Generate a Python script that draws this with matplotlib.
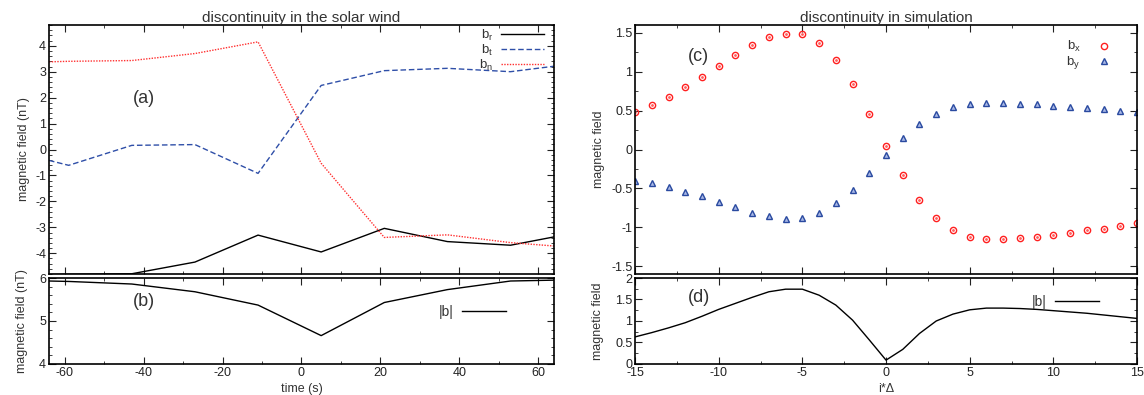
import numpy as np
import matplotlib
matplotlib.use("Agg")
import matplotlib.pyplot as plt
from matplotlib.ticker import MultipleLocator

plt.rcParams['font.family'] = ['Liberation Sans', 'DejaVu Sans']
plt.rcParams['text.color'] = '#333333'
plt.rcParams['axes.labelcolor'] = '#333333'
plt.rcParams['xtick.color'] = '#222222'
plt.rcParams['ytick.color'] = '#222222'
plt.rcParams['axes.unicode_minus'] = False
plt.rcParams['mathtext.fontset'] = 'custom'
plt.rcParams['mathtext.rm'] = 'Liberation Sans'
plt.rcParams['mathtext.it'] = 'Liberation Sans'

# solar wind data (left panels)
time_s = [-64, -59, -43, -27, -11, 5, 21, 37, 53, 64]
b_r = [-4.82, -4.81, -4.79, -4.34, -3.30, -3.95, -3.04, -3.55, -3.69, -3.37]
b_t = [-0.42, -0.61, 0.16, 0.19, -0.92, 2.47, 3.04, 3.13, 3.00, 3.21]
b_n = [3.38, 3.40, 3.43, 3.70, 4.15, -0.53, -3.39, -3.29, -3.59, -3.72]
b_mag = [5.93, 5.92, 5.86, 5.68, 5.37, 4.66, 5.43, 5.73, 5.93, 5.95]

# simulation data (right panels)
i_delta = list(range(-15, 16))
b_x = [0.48, 0.57, 0.68, 0.80, 0.93, 1.07, 1.21, 1.34, 1.44, 1.49, 1.48, 1.37,
       1.15, 0.84, 0.46, 0.05, -0.33, -0.65, -0.88, -1.03, -1.12, -1.15, -1.15,
       -1.14, -1.12, -1.10, -1.07, -1.04, -1.02, -0.98, -0.95]
b_y = [-0.40, -0.43, -0.48, -0.54, -0.60, -0.67, -0.74, -0.81, -0.86, -0.89,
       -0.88, -0.82, -0.69, -0.52, -0.30, -0.07, 0.15, 0.33, 0.46, 0.54, 0.59,
       0.60, 0.60, 0.59, 0.58, 0.56, 0.55, 0.53, 0.52, 0.50, 0.48]
b_sim = [0.63, 0.73, 0.84, 0.96, 1.11, 1.27, 1.41, 1.55, 1.68, 1.74, 1.74, 1.60,
         1.37, 1.02, 0.56, 0.09, 0.34, 0.71, 1.00, 1.16, 1.26, 1.30, 1.30,
         1.29, 1.27, 1.24, 1.21, 1.18, 1.14, 1.10, 1.06]

fig = plt.figure(figsize=(11.44, 3.95), dpi=100)
ax_a = fig.add_axes([0.0428, 0.3063, 0.4414, 0.6304])
ax_b = fig.add_axes([0.0428, 0.0785, 0.4414, 0.2177])
ax_c = fig.add_axes([0.5551, 0.3063, 0.4388, 0.6304])
ax_d = fig.add_axes([0.5551, 0.0785, 0.4388, 0.2177])


def style(ax):
    ax.tick_params(which='both', direction='in', top=True, right=True, labelsize=9, pad=2)
    ax.tick_params(which='major', length=5)
    ax.tick_params(which='minor', length=2.5)
    for s in ax.spines.values():
        s.set_linewidth(1.2)


# (a)
ax_a.plot(time_s, b_r, color='black', lw=1, label='b$_\\mathrm{r}$')
ax_a.plot(time_s, b_t, color='#2f4fa8', lw=1, ls=(0, (4, 2)), label='b$_\\mathrm{t}$')
ax_a.plot(time_s, b_n, color='#ff3030', lw=1, ls=(0, (1, 1)), label='b$_\\mathrm{n}$')
ax_a.set_xlim(-64, 64)
ax_a.set_ylim(-4.8, 4.8)
ax_a.xaxis.set_major_locator(MultipleLocator(20))
ax_a.xaxis.set_minor_locator(MultipleLocator(10))
ax_a.yaxis.set_major_locator(MultipleLocator(1))
ax_a.yaxis.set_minor_locator(MultipleLocator(0.2))
ax_a.set_xticklabels([])
ax_a.set_ylabel('magnetic field (nT)', fontsize=9, labelpad=4)
ax_a.set_title('discontinuity in the solar wind', fontsize=11, pad=2)
ax_a.text(-40, 1.95, '(a)', fontsize=13, ha='center', va='center')
ax_a.legend(loc='upper right', bbox_to_anchor=(0.99, 1.01), frameon=False, markerfirst=False,
            fontsize=9.5, handlelength=3.2, labelspacing=0.0, borderaxespad=0.0,
            handletextpad=0.6)
style(ax_a)

# (b)
ax_b.plot(time_s, b_mag, color='black', lw=1, label='|b|')
ax_b.set_xlim(-64, 64)
ax_b.set_ylim(4, 6)
ax_b.xaxis.set_major_locator(MultipleLocator(20))
ax_b.xaxis.set_minor_locator(MultipleLocator(10))
ax_b.yaxis.set_major_locator(MultipleLocator(1))
ax_b.yaxis.set_minor_locator(MultipleLocator(0.2))
ax_b.set_xlabel('time (s)', fontsize=9, labelpad=3)
ax_b.set_ylabel('magnetic field (nT)', fontsize=9, labelpad=8)
ax_b.text(-40, 5.45, '(b)', fontsize=13, ha='center', va='center')
ax_b.legend(loc='upper right', bbox_to_anchor=(0.93, 0.83), frameon=False, markerfirst=False,
            fontsize=10, handlelength=3.2, handletextpad=0.6)
style(ax_b)

# (c)
ax_c.plot(i_delta, b_x, ls='none', marker='o', ms=4.5, mfc='none', mec='#ff2020', mew=1,
          label='b$_\\mathrm{x}$')
ax_c.plot(i_delta, b_x, ls='none', marker='.', ms=2, color='#ff6060')
ax_c.plot(i_delta, b_y, ls='none', marker='^', ms=5, mfc='#a9b8e6', mec='#2a4aa0', mew=1,
          label='b$_\\mathrm{y}$')
ax_c.set_xlim(-15, 15)
ax_c.set_ylim(-1.6, 1.6)
ax_c.xaxis.set_major_locator(MultipleLocator(5))
ax_c.xaxis.set_minor_locator(MultipleLocator(2.5))
ax_c.yaxis.set_major_locator(MultipleLocator(0.5))
ax_c.yaxis.set_minor_locator(MultipleLocator(0.25))
ax_c.set_xticklabels([])
ax_c.set_yticks([-1.5, -1, -0.5, 0, 0.5, 1, 1.5])
ax_c.set_yticklabels(['-1.5', '-1', '-0.5', '0', '0.5', '1', '1.5'])
ax_c.set_ylabel('magnetic field', fontsize=9, labelpad=4)
ax_c.set_title('discontinuity in simulation', fontsize=11, pad=2)
ax_c.text(-11.2, 1.2, '(c)', fontsize=13, ha='center', va='center')
ax_c.legend(loc='upper right', bbox_to_anchor=(0.99, 0.99), frameon=False, markerfirst=False,
            fontsize=9.5, handlelength=2.5, labelspacing=0.0, handletextpad=0.5)
style(ax_c)

# (d)
ax_d.plot(i_delta, b_sim, color='black', lw=1, label='|b|')
ax_d.set_xlim(-15, 15)
ax_d.set_ylim(0, 2)
ax_d.xaxis.set_major_locator(MultipleLocator(5))
ax_d.xaxis.set_minor_locator(MultipleLocator(2.5))
ax_d.yaxis.set_major_locator(MultipleLocator(0.5))
ax_d.yaxis.set_minor_locator(MultipleLocator(0.25))
ax_d.set_yticks([0, 0.5, 1, 1.5, 2])
ax_d.set_yticklabels(['0', '0.5', '1', '1.5', '2'])
ax_d.set_xlabel('i*Δ', fontsize=9, labelpad=3)
ax_d.set_ylabel('magnetic field', fontsize=9, labelpad=8)
ax_d.text(-11.2, 1.55, '(d)', fontsize=13, ha='center', va='center')
ax_d.legend(loc='upper right', bbox_to_anchor=(0.95, 0.95), frameon=False, markerfirst=False,
            fontsize=10, handlelength=3.2, handletextpad=0.6)
style(ax_d)

fig.savefig('out.png', dpi=100)
